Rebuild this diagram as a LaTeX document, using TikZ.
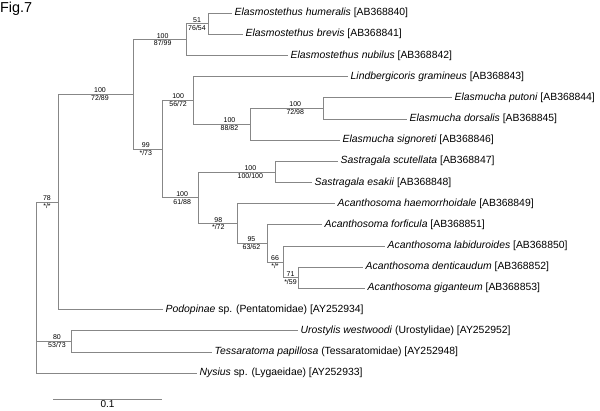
\documentclass[tikz,border=0pt]{standalone}
\usepackage{fontspec}
\setmainfont{Liberation Sans}
\definecolor{linegray}{RGB}{135,135,135}
\tikzset{
  br/.style={draw=linegray, line width=0.8pt},
  leaf/.style={anchor=west, inner sep=2.5pt, font=\fontsize{10.4}{12}\selectfont},
  bsl/.style={font=\fontsize{7}{8}\selectfont, inner sep=1pt, text=black},
  ab/.style={bsl, above},
  be/.style={bsl, below}
}
\begin{document}
\begin{tikzpicture}[x=1pt,y=-1pt]
\useasboundingbox (0,0) rectangle (600,410);
\node[anchor=base west, inner sep=0pt, font=\fontsize{14.4}{16}\selectfont] (fig) at (0,12) {Fig.7};

% leaves
\node[leaf] (l1)  at (232,13.0)  {\textit{Elasmostethus humeralis} [AB368840]};
\node[leaf] (l2)  at (243,34.2)  {\textit{Elasmostethus brevis} [AB368841]};
\node[leaf] (l3)  at (288,55.4)  {\textit{Elasmostethus nubilus} [AB368842]};
\node[leaf] (l4)  at (348,76.5)  {\textit{Lindbergicoris gramineus} [AB368843]};
\node[leaf] (l5)  at (452,97.7)  {\textit{Elasmucha putoni} [AB368844]};
\node[leaf] (l6)  at (407,118.9) {\textit{Elasmucha dorsalis} [AB368845]};
\node[leaf] (l7)  at (340,140.1) {\textit{Elasmucha signoreti} [AB368846]};
\node[leaf] (l8)  at (338,161.3) {\textit{Sastragala scutellata} [AB368847]};
\node[leaf] (l9)  at (312,182.4) {\textit{Sastragala esakii} [AB368848]};
\node[leaf] (l10) at (335,203.6) {\textit{Acanthosoma haemorrhoidale} [AB368849]};
\node[leaf] (l11) at (322,224.8) {\textit{Acanthosoma forficula} [AB368851]};
\node[leaf] (l12) at (385,246.0) {\textit{Acanthosoma labiduroides} [AB368850]};
\node[leaf] (l13) at (363,267.2) {\textit{Acanthosoma denticaudum} [AB368852]};
\node[leaf] (l14) at (365,288.3) {\textit{Acanthosoma giganteum} [AB368853]};
\node[leaf] (l15) at (163,309.5) {\textit{Podopinae} sp. (Pentatomidae) [AY252934]};
\node[leaf] (l16) at (298,330.7) {\textit{Urostylis westwoodi} (Urostylidae) [AY252952]};
\node[leaf] (l17) at (212,351.9) {\textit{Tessaratoma papillosa} (Tessaratomidae) [AY252948]};
\node[leaf] (l18) at (197,373.1) {\textit{Nysius} sp. (Lygaeidae) [AY252933]};

% internal nodes
\coordinate (n51)   at (208,23.6);
\coordinate (n87)   at (186,39.5);
\coordinate (n7298) at (323,108.3);
\coordinate (n8882) at (250,124.2);
\coordinate (n5672) at (193,100.4);
\coordinate (n100)  at (275,171.9);
\coordinate (n71)   at (298,277.8);
\coordinate (n66)   at (283,261.9);
\coordinate (n95)   at (267,243.3);
\coordinate (n98)   at (237,223.5);
\coordinate (n6188) at (198,197.7);
\coordinate (n99)   at (162,149.1);
\coordinate (n7289) at (133,94.3);
\coordinate (nA)    at (58,201.9);
\coordinate (n80)   at (71,341.3);
\coordinate (root)  at (36,287.5);

% branches
\draw[br] (n51) |- (l1.west);
\draw[br] (n51) |- (l2.west);
\draw[br] (n87) |- (n51) node[ab,pos=0.75]{51} node[be,pos=0.75]{76/54};
\draw[br] (n87) |- (l3.west);
\draw[br] (n7289) |- (n87) node[ab,pos=0.78]{100} node[be,pos=0.78]{87/99};
\draw[br] (n7289) |- (n99) node[ab,pos=0.72]{99} node[be,pos=0.72]{*/73};
\draw[br] (n99) |- (n5672) node[ab,pos=0.76]{100} node[be,pos=0.76]{56/72};
\draw[br] (n99) |- (n6188) node[ab,pos=0.78]{100} node[be,pos=0.78]{61/88};
\draw[br] (n5672) |- (l4.west);
\draw[br] (n5672) |- (n8882) node[ab,pos=0.82]{100} node[be,pos=0.82]{88/82};
\draw[br] (n8882) |- (n7298) node[ab,pos=0.81]{100} node[be,pos=0.81]{72/98};
\draw[br] (n8882) |- (l7.west);
\draw[br] (n7298) |- (l5.west);
\draw[br] (n7298) |- (l6.west);
\draw[br] (n6188) |- (n100) node[ab,pos=0.84]{100} node[be,pos=0.84]{100/100};
\draw[br] (n6188) |- (n98) node[ab,pos=0.76]{98} node[be,pos=0.76]{*/72};
\draw[br] (n100) |- (l8.west);
\draw[br] (n100) |- (l9.west);
\draw[br] (n98) |- (l10.west);
\draw[br] (n98) |- (n95) node[ab,pos=0.74]{95} node[be,pos=0.74]{63/62};
\draw[br] (n95) |- (l11.west);
\draw[br] (n95) |- (n66) node[ab,pos=0.75]{66} node[be,pos=0.75]{*/*};
\draw[br] (n66) |- (l12.west);
\draw[br] (n66) |- (n71) node[ab,pos=0.75]{71} node[be,pos=0.75]{*/59};
\draw[br] (n71) |- (l13.west);
\draw[br] (n71) |- (l14.west);
\draw[br] (nA) |- (n7289) node[ab,pos=0.78]{100} node[be,pos=0.78]{72/89};
\draw[br] (nA) |- (l15.west);
\draw[br] (root) |- (nA) node[ab,pos=0.75]{78} node[be,pos=0.75]{*/*};
\draw[br] (root) |- (n80) node[ab,pos=0.8]{80} node[be,pos=0.8]{53/73};
\draw[br] (root) |- (l18.west);
\draw[br] (n80) |- (l16.west);
\draw[br] (n80) |- (l17.west);

% scale bar
\coordinate (sbL) at (53,399);
\coordinate (sbR) at (162,399);
\draw[br] (sbL) -- (sbR) node[midway, below, inner sep=1.5pt, font=\fontsize{10}{12}\selectfont, text=black] (sblab) {0.1};
\end{tikzpicture}
\end{document}
